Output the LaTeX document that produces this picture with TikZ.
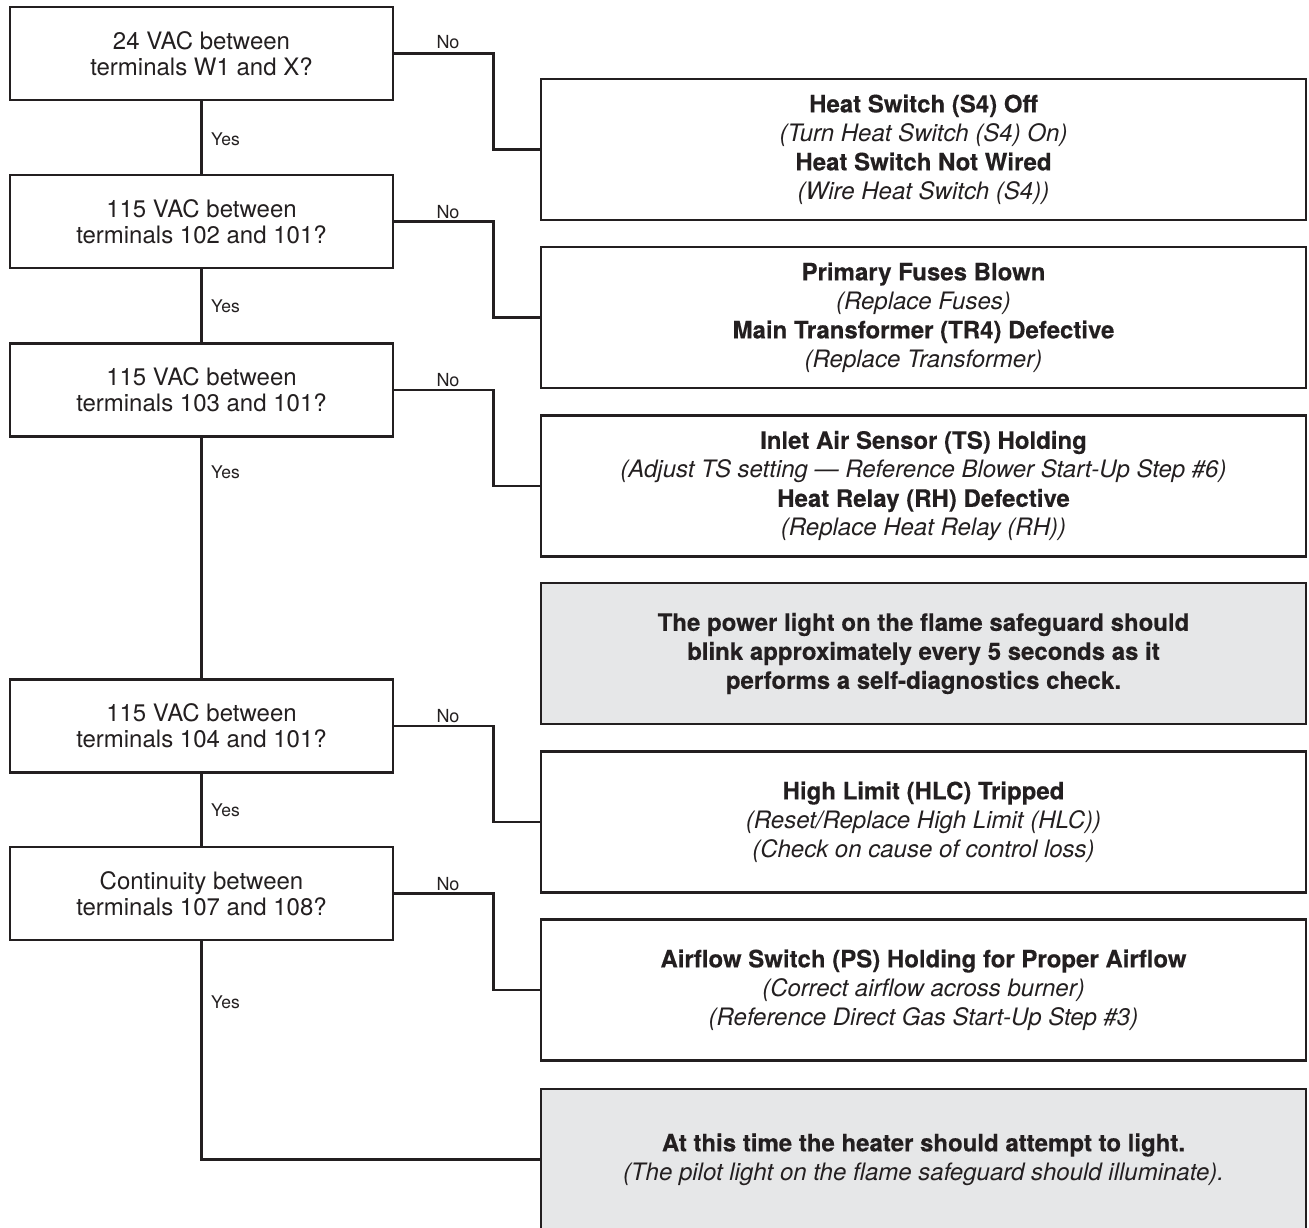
\documentclass[tikz,border=0pt]{standalone}
\usepackage{fontspec}
\setmainfont[BoldFeatures={FakeBold=0.35}]{TeX Gyre Heros}
\definecolor{ink}{HTML}{231F20}
\definecolor{shade}{HTML}{E6E7E8}
\begin{document}
\begin{tikzpicture}[x=1pt,y=-1pt,
  every node/.style={text=ink},
  lbox/.style={draw=ink, line width=2.6pt, minimum width=383pt, minimum height=93pt, inner sep=0pt, align=center, font=\fontsize{24}{26}\selectfont},
  rbox/.style={draw=ink, line width=2.6pt, minimum width=765pt, minimum height=141pt, inner sep=0pt, align=center, font=\fontsize{24}{29}\selectfont},
  gbox/.style={rbox, fill=shade},
  conn/.style={draw=ink, line width=2.4pt},
  nolab/.style={font=\fontsize{18}{18}\selectfont, anchor=base, inner sep=0pt},
  yeslab/.style={font=\fontsize{17.5}{18}\selectfont, anchor=base west, inner sep=0pt}]
\useasboundingbox (0,0) rectangle (1309,1228);

% question boxes
\node[lbox] (B1) at (201.5,53.5) {24 VAC between\\terminals W1 and X?};
\node[lbox] (B2) at (201.5,221.5) {115 VAC between\\terminals 102 and 101?};
\node[lbox] (B3) at (201.5,390) {115 VAC between\\terminals 103 and 101?};
\node[lbox] (B4) at (201.5,726) {115 VAC between\\terminals 104 and 101?};
\node[lbox] (B5) at (201.5,893.5) {Continuity between\\terminals 107 and 108?};

% result boxes
\node[rbox] (R1) at (923.5,149.5) {\textbf{Heat Switch (S4) Off}\\\textit{(Turn Heat Switch (S4) On)}\\\textbf{Heat Switch Not Wired}\\\textit{(Wire Heat Switch (S4))}};
\node[rbox] (R2) at (923.5,317.5) {\textbf{Primary Fuses Blown}\\\textit{(Replace Fuses)}\\\textbf{Main Transformer (TR4) Defective}\\\textit{(Replace Transformer)}};
\node[rbox] (R3) at (923.5,486) {\textbf{Inlet Air Sensor (TS) Holding}\\\textit{(Adjust TS setting — Reference Blower Start-Up Step \#6)}\\\textbf{Heat Relay (RH) Defective}\\\textit{(Replace Heat Relay (RH))}};
\node[gbox] (G1) at (923.5,653.5) {\textbf{The power light on the flame safeguard should}\\\textbf{blink approximately every 5 seconds as it}\\\textbf{performs a self-diagnostics check.}};
\node[rbox] (R4) at (923.5,822) {\textbf{High Limit (HLC) Tripped}\\\textit{(Reset/Replace High Limit (HLC))}\\\textit{(Check on cause of control loss)}};
\node[rbox] (R5) at (923.5,990) {\textbf{Airflow Switch (PS) Holding for Proper Airflow}\\\textit{(Correct airflow across burner)}\\\textit{(Reference Direct Gas Start-Up Step \#3)}};
\node[gbox] (G2) at (923.5,1159.5) {\textbf{At this time the heater should attempt to light.}\\\textit{(The pilot light on the flame safeguard should illuminate).}};

% Yes connectors
\draw[conn] (B1.south) -- (B2.north);
\draw[conn] (B2.south) -- (B3.north);
\draw[conn] (B3.south) -- (B4.north);
\draw[conn] (B4.south) -- (B5.north);
\draw[conn] (B5.south) |- (G2.west);

% No connectors
\draw[conn] (B1.east) -- ++(99,0) |- (R1.west);
\draw[conn] (B2.east) -- ++(99,0) |- (R2.west);
\draw[conn] (B3.east) -- ++(99,0) |- (R3.west);
\draw[conn] (B4.east) -- ++(99,0) |- (R4.west);
\draw[conn] (B5.east) -- ++(99,0) |- (R5.west);

% labels
\node[nolab] (n1) at (448,49) {No};
\node[nolab] (n2) at (448,218) {No};
\node[nolab] (n3) at (448,386) {No};
\node[nolab] (n4) at (448,722) {No};
\node[nolab] (n5) at (448,890) {No};
\node[yeslab] (y1) at (211,146) {Yes};
\node[yeslab] (y2) at (211,312.5) {Yes};
\node[yeslab] (y3) at (211,478.5) {Yes};
\node[yeslab] (y4) at (211,816.5) {Yes};
\node[yeslab] (y5) at (211,1008.5) {Yes};
\end{tikzpicture}
\end{document}
